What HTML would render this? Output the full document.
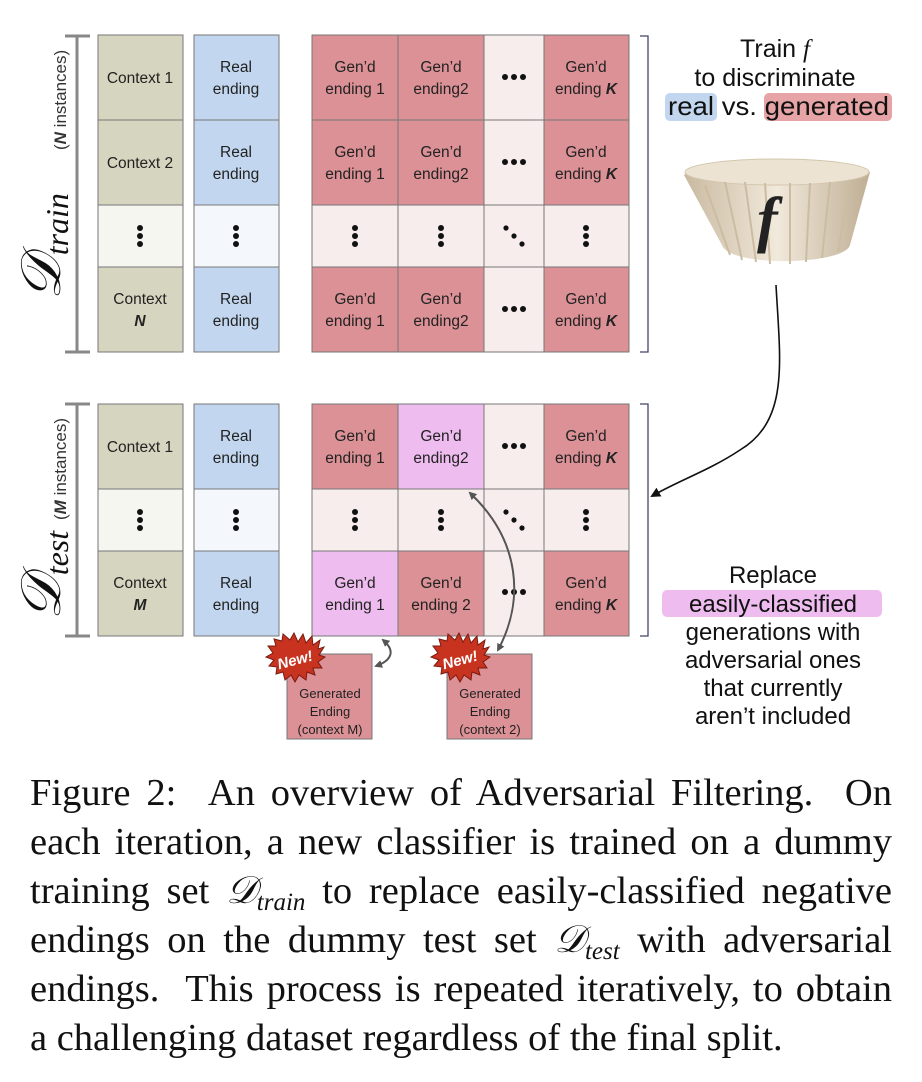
<!DOCTYPE html>
<html><head><meta charset="utf-8"><style>
html,body{margin:0;padding:0;background:#fff;}
body{width:922px;height:1082px;position:relative;overflow:hidden;}
svg{position:absolute;left:0;top:0;}
.cap{position:absolute;left:30px;top:769px;width:862px;font-family:"Liberation Serif",serif;font-size:38.5px;line-height:49px;color:#111;}
.cap div{text-align:justify;text-align-last:justify;white-space:nowrap;height:49px;}
.cap div.last{text-align-last:left;}
.cap sub{font-size:25px;line-height:0;vertical-align:-7px;}
</style></head><body>
<svg width="922" height="760" viewBox="0 0 922 760" font-family="Liberation Sans, sans-serif">
<defs>
<marker id="ah" markerWidth="10" markerHeight="10" refX="8" refY="5" orient="auto" markerUnits="userSpaceOnUse"><path d="M0,0 L10,5 L0,10 z" fill="#111"/></marker>
<marker id="ah2" markerWidth="8" markerHeight="8" refX="6" refY="4" orient="auto-start-reverse" markerUnits="userSpaceOnUse"><path d="M0,0 L8,4 L0,8 z" fill="#555"/></marker>
<linearGradient id="fg" x1="0" x2="1"><stop offset="0" stop-color="#c9b9a0"/><stop offset="0.5" stop-color="#f1e9db"/><stop offset="1" stop-color="#bfae94"/></linearGradient>
<g id="vd"><circle cx="0" cy="-8" r="3"/><circle cx="0" cy="0" r="3"/><circle cx="0" cy="8" r="3"/></g>
</defs>
<g stroke="#777" stroke-width="1">
<rect x="98" y="35" width="85" height="85" fill="#d6d5c0"/><rect x="98" y="120" width="85" height="85" fill="#d6d5c0"/><rect x="98" y="205" width="85" height="62" fill="#f6f6f1"/><rect x="98" y="267" width="85" height="85" fill="#d6d5c0"/>
<rect x="194" y="35" width="85" height="85" fill="#c2d7ef"/><rect x="194" y="120" width="85" height="85" fill="#c2d7ef"/><rect x="194" y="205" width="85" height="62" fill="#f4f8fc"/><rect x="194" y="267" width="85" height="85" fill="#c2d7ef"/>
<rect x="312" y="35" width="86" height="85" fill="#db9196"/><rect x="398" y="35" width="86" height="85" fill="#db9196"/><rect x="484" y="35" width="60" height="85" fill="#f8eded"/><rect x="544" y="35" width="85" height="85" fill="#db9196"/>
<rect x="312" y="120" width="86" height="85" fill="#db9196"/><rect x="398" y="120" width="86" height="85" fill="#db9196"/><rect x="484" y="120" width="60" height="85" fill="#f8eded"/><rect x="544" y="120" width="85" height="85" fill="#db9196"/>
<rect x="312" y="205" width="86" height="62" fill="#f8eded"/><rect x="398" y="205" width="86" height="62" fill="#f8eded"/><rect x="484" y="205" width="60" height="62" fill="#f8eded"/><rect x="544" y="205" width="85" height="62" fill="#f8eded"/>
<rect x="312" y="267" width="86" height="85" fill="#db9196"/><rect x="398" y="267" width="86" height="85" fill="#db9196"/><rect x="484" y="267" width="60" height="85" fill="#f8eded"/><rect x="544" y="267" width="85" height="85" fill="#db9196"/>
<rect x="98" y="404" width="85" height="85" fill="#d6d5c0"/><rect x="98" y="489" width="85" height="62" fill="#f6f6f1"/><rect x="98" y="551" width="85" height="85" fill="#d6d5c0"/>
<rect x="194" y="404" width="85" height="85" fill="#c2d7ef"/><rect x="194" y="489" width="85" height="62" fill="#f4f8fc"/><rect x="194" y="551" width="85" height="85" fill="#c2d7ef"/>
<rect x="312" y="404" width="86" height="85" fill="#db9196"/><rect x="398" y="404" width="86" height="85" fill="#eebcee"/><rect x="484" y="404" width="60" height="85" fill="#f8eded"/><rect x="544" y="404" width="85" height="85" fill="#db9196"/>
<rect x="312" y="489" width="86" height="62" fill="#f8eded"/><rect x="398" y="489" width="86" height="62" fill="#f8eded"/><rect x="484" y="489" width="60" height="62" fill="#f8eded"/><rect x="544" y="489" width="85" height="62" fill="#f8eded"/>
<rect x="312" y="551" width="86" height="85" fill="#eebcee"/><rect x="398" y="551" width="86" height="85" fill="#db9196"/><rect x="484" y="551" width="60" height="85" fill="#f8eded"/><rect x="544" y="551" width="85" height="85" fill="#db9196"/>
<rect x="287" y="654" width="85" height="85" fill="#db9196"/><rect x="447" y="654" width="85" height="85" fill="#db9196"/>
</g>
<g stroke="#888" stroke-width="3" fill="none">
<path d="M65,36 H90 M77,36 V352 M65,352 H90"/>
<path d="M65,404 H90 M77,404 V636 M65,636 H90"/>
</g>
<g stroke="#446" stroke-width="1.3" fill="none">
<path d="M640,36 H648 V352 H640"/><path d="M640,404 H648 V636 H640"/>
</g>
<g font-family="Liberation Serif, serif" font-style="italic" fill="#111">
<text transform="translate(60,300) rotate(-90)" font-size="56">𝒟<tspan font-size="32" dy="8">train</tspan></text>
<text transform="translate(60,620) rotate(-90)" font-size="56">𝒟<tspan font-size="32" dy="8">test</tspan></text>
</g>
<text transform="translate(66,150) rotate(-90)" font-size="17" fill="#333">(<tspan font-weight="bold" font-style="italic">N</tspan> instances)</text>
<text transform="translate(66,520) rotate(-90)" font-size="17" fill="#333">(<tspan font-weight="bold" font-style="italic">M</tspan> instances)</text>
<g font-size="15.5" fill="#222" text-anchor="middle">
<text x="140" y="83">Context 1</text><text x="140" y="168">Context 2</text>
<text x="140" y="304">Context</text><text x="140" y="326" font-weight="bold" font-style="italic">N</text>
<text x="140" y="452">Context 1</text>
<text x="140" y="588">Context</text><text x="140" y="610" font-weight="bold" font-style="italic">M</text>
<text x="236" y="72">Real</text><text x="236" y="94">ending</text>
<text x="236" y="157">Real</text><text x="236" y="179">ending</text>
<text x="236" y="304">Real</text><text x="236" y="326">ending</text>
<text x="236" y="441">Real</text><text x="236" y="463">ending</text>
<text x="236" y="588">Real</text><text x="236" y="610">ending</text>
<text x="355" y="72">Gen’d</text><text x="355" y="94">ending 1</text>
<text x="441" y="72">Gen’d</text><text x="441" y="94">ending2</text>
<text x="586" y="72">Gen’d</text><text x="586" y="94">ending <tspan font-weight="bold" font-style="italic">K</tspan></text>
<text x="355" y="157">Gen’d</text><text x="355" y="179">ending 1</text>
<text x="441" y="157">Gen’d</text><text x="441" y="179">ending2</text>
<text x="586" y="157">Gen’d</text><text x="586" y="179">ending <tspan font-weight="bold" font-style="italic">K</tspan></text>
<text x="355" y="304">Gen’d</text><text x="355" y="326">ending 1</text>
<text x="441" y="304">Gen’d</text><text x="441" y="326">ending2</text>
<text x="586" y="304">Gen’d</text><text x="586" y="326">ending <tspan font-weight="bold" font-style="italic">K</tspan></text>
<text x="355" y="441">Gen’d</text><text x="355" y="463">ending 1</text>
<text x="441" y="441">Gen’d</text><text x="441" y="463">ending2</text>
<text x="586" y="441">Gen’d</text><text x="586" y="463">ending <tspan font-weight="bold" font-style="italic">K</tspan></text>
<text x="355" y="588">Gen’d</text><text x="355" y="610">ending 1</text>
<text x="441" y="588">Gen’d</text><text x="441" y="610">ending 2</text>
<text x="586" y="588">Gen’d</text><text x="586" y="610">ending <tspan font-weight="bold" font-style="italic">K</tspan></text>
</g>
<g font-size="13" fill="#222" text-anchor="middle">
<text x="330" y="698">Generated</text><text x="330" y="716">Ending</text><text x="330" y="734">(context M)</text>
<text x="490" y="698">Generated</text><text x="490" y="716">Ending</text><text x="490" y="734">(context 2)</text>
</g>
<g fill="#111">
<use href="#vd" x="140" y="236"/><use href="#vd" x="236" y="236"/><use href="#vd" x="355" y="236"/><use href="#vd" x="441" y="236"/><use href="#vd" x="586" y="236"/>
<use href="#vd" x="140" y="520"/><use href="#vd" x="236" y="520"/><use href="#vd" x="355" y="520"/><use href="#vd" x="441" y="520"/><use href="#vd" x="586" y="520"/>
<circle cx="505" cy="77" r="3"/><circle cx="514" cy="77" r="3"/><circle cx="523" cy="77" r="3"/>
<circle cx="505" cy="162" r="3"/><circle cx="514" cy="162" r="3"/><circle cx="523" cy="162" r="3"/>
<circle cx="505" cy="309" r="3"/><circle cx="514" cy="309" r="3"/><circle cx="523" cy="309" r="3"/>
<circle cx="505" cy="446" r="3"/><circle cx="514" cy="446" r="3"/><circle cx="523" cy="446" r="3"/>
<circle cx="505" cy="592" r="3"/><circle cx="514" cy="592" r="3"/><circle cx="523" cy="592" r="3"/>
<circle cx="506" cy="228" r="2.6"/><circle cx="514" cy="236" r="2.6"/><circle cx="522" cy="244" r="2.6"/>
<circle cx="506" cy="512" r="2.6"/><circle cx="514" cy="520" r="2.6"/><circle cx="522" cy="528" r="2.6"/>
</g>
<g>
<polygon points="290,640 294,633 298,642 303,634 306,643 312,636 313,645 320,640 318,649 324,647 319,655 325,657 318,662 322,668 313,668 315,675 307,672 306,680 299,675 295,682 291,675 285,680 283,672 276,674 277,667 269,666 274,660 266,657 273,653 268,646 276,646 274,639 282,641 283,634" fill="#c8331f" stroke="#7a1a10" stroke-width="1"/>
<text x="295" y="665" font-size="15" font-weight="bold" font-style="italic" fill="#fff" text-anchor="middle" transform="rotate(-15 295 660)">New!</text>
<polygon points="455,640 459,633 463,642 468,634 471,643 477,636 478,645 485,640 483,649 489,647 484,655 490,657 483,662 487,668 478,668 480,675 472,672 471,680 464,675 460,682 456,675 450,680 448,672 441,674 442,667 434,666 439,660 431,657 438,653 433,646 441,646 439,639 447,641 448,634" fill="#c8331f" stroke="#7a1a10" stroke-width="1"/>
<text x="460" y="665" font-size="15" font-weight="bold" font-style="italic" fill="#fff" text-anchor="middle" transform="rotate(-15 460 660)">New!</text>
</g>
<path d="M383,640 C395,650 393,660 376,666" stroke="#555" stroke-width="2" fill="none" marker-start="url(#ah2)" marker-end="url(#ah2)"/>
<path d="M470,493 C520,540 525,600 498,650" stroke="#555" stroke-width="2" fill="none" marker-start="url(#ah2)" marker-end="url(#ah2)"/>
<path d="M776,285 C780,360 790,420 740,450 C710,470 680,480 652,496" stroke="#111" stroke-width="1.6" fill="none" marker-end="url(#ah)"/>
<g font-size="25" fill="#111" text-anchor="middle">
<text x="775" y="57">Train <tspan font-family="Liberation Serif, serif" font-style="italic">f</tspan></text>
<text x="775" y="86">to discriminate</text>
</g>
<rect x="665" y="93" width="52" height="28" rx="5" fill="#c2d7ef"/>
<rect x="764" y="93" width="128" height="28" rx="5" fill="#e7a4a6"/>
<text x="668" y="115" font-size="26" fill="#111" textLength="221" lengthAdjust="spacingAndGlyphs">real vs. generated</text>
<path d="M684,175 C700,160 850,158 870,172 L850,245 C845,265 730,268 722,245 Z" fill="url(#fg)"/>
<ellipse cx="777" cy="172" rx="92" ry="13" fill="#ece3d2" stroke="#d4c6ad"/>
<g stroke="#cbbca3" stroke-width="2">
<path d="M705,185 L730,255 M725,182 L742,260 M745,182 L756,262 M765,183 L770,264 M790,183 L790,264 M810,183 L806,262 M830,182 L822,258 M850,180 L838,252"/>
</g>
<text x="757" y="240" font-family="Liberation Serif, serif" font-style="italic" font-weight="bold" font-size="62" fill="#222">f</text>
<rect x="662" y="590" width="220" height="27" rx="5" fill="#eebcee"/>
<g font-size="24" fill="#111" text-anchor="middle">
<text x="773" y="583">Replace</text>
<text x="773" y="612">easily-classified</text>
<text x="773" y="640">generations with</text>
<text x="773" y="668">adversarial ones</text>
<text x="773" y="696">that currently</text>
<text x="773" y="724">aren’t included</text>
</g>
</svg>
<div class="cap">
<div>Figure 2: &nbsp;An overview of Adversarial Filtering. &nbsp;On</div>
<div>each iteration, a new classifier is trained on a dummy</div>
<div>training set <i>𝒟<sub>train</sub></i> to replace easily-classified negative</div>
<div>endings on the dummy test set <i>𝒟<sub>test</sub></i> with adversarial</div>
<div>endings. &nbsp;This process is repeated iteratively, to obtain</div>
<div class="last">a challenging dataset regardless of the final split.</div>
</div>
</body></html>
